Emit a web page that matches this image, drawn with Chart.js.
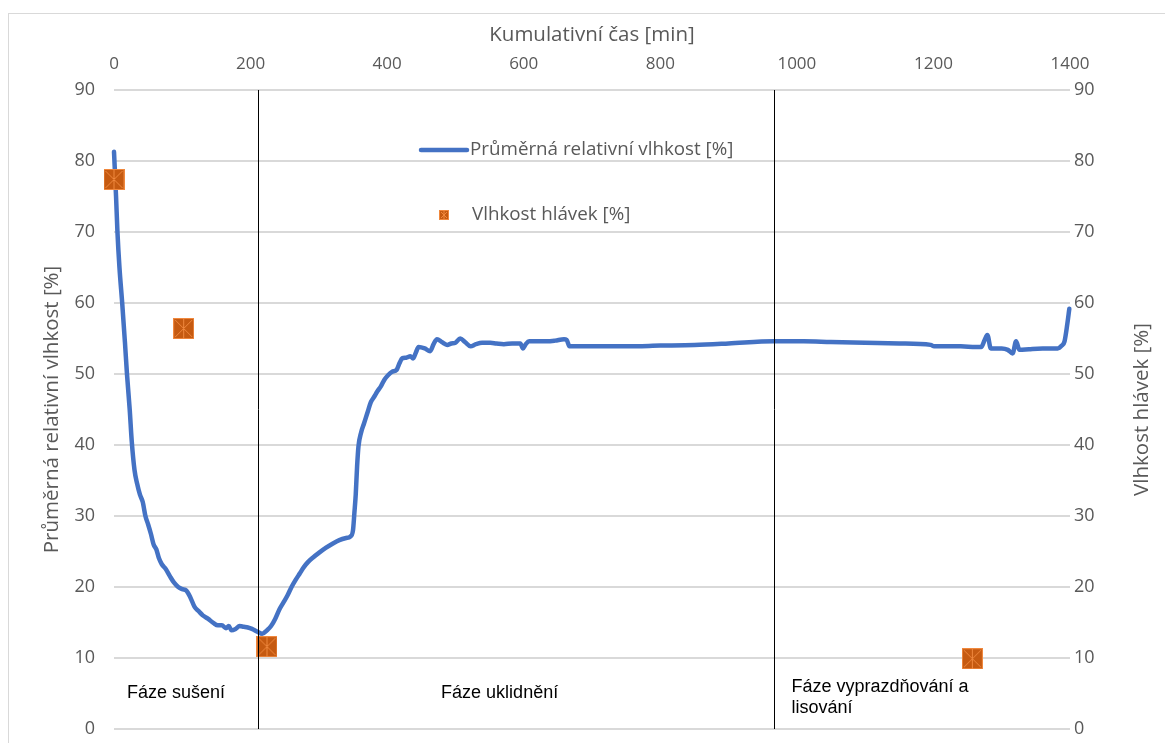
<!DOCTYPE html>
<html>
<head>
<meta charset="utf-8">
<script src="https://cdn.jsdelivr.net/npm/chart.js@4.4.0/dist/chart.umd.min.js"></script>
<style>
  html, body { margin: 0; padding: 0; background: #fff; }
</style>
</head>
<body>
<canvas id="chart" width="1165" height="743"></canvas>
<script>
// průměrná relativní vlhkost [%] vs. kumulativní čas [min]
const timeMin = [0, 3, 5, 8, 12, 16, 19, 23, 26, 30, 34, 38, 42, 46, 50, 54, 58, 62, 66, 70, 76, 82, 88, 94, 100, 106,
  112, 118, 124, 130, 138, 146, 152, 158, 164, 168, 172, 178, 184, 190, 196, 202, 210, 217, 224, 230, 236, 242, 248,
  254, 260, 266, 272, 278, 284, 292, 300, 310, 320, 330, 340, 346, 350, 352, 354, 356, 358, 362, 366, 371, 376, 381,
  386, 391, 396, 402, 407, 414, 418, 422, 428, 434, 438, 442, 446, 455, 463, 468, 473, 480, 488, 494, 500, 507, 514,
  522, 530, 539, 551, 560, 571, 583, 595, 599, 603, 608, 620, 634, 646, 659, 663, 667, 700, 750, 800, 850, 900, 966,
  1010, 1050, 1100, 1150, 1196, 1201, 1240, 1262, 1270, 1275, 1279, 1284, 1300, 1309, 1316, 1321, 1326, 1340, 1360,
  1382, 1388, 1392, 1396, 1399];
const avgHumidity = [81.3, 75, 70.1, 65, 60, 54.5, 50, 45, 40.5, 36.5, 34.5, 33, 32, 30, 28.8, 27.5, 26, 25.3, 24, 23.2,
  22.5, 21.5, 20.6, 20, 19.7, 19.5, 18.5, 17.2, 16.6, 16, 15.5, 14.9, 14.6, 14.6, 14.2, 14.5, 13.9, 14.1, 14.5, 14.4,
  14.3, 14.1, 13.7, 13.4, 13.9, 14.5, 15.5, 16.8, 17.8, 18.8, 20, 21, 21.9, 22.8, 23.5, 24.2, 24.8, 25.5, 26.1, 26.6,
  26.9, 27.1, 28, 30.4, 33, 37, 39.8, 41.8, 43, 44.5, 46, 46.8, 47.6, 48.3, 49.2, 49.9, 50.3, 50.6, 51.5, 52.2, 52.3,
  52.5, 52.2, 53, 53.8, 53.6, 53.2, 54.2, 54.9, 54.5, 54.1, 54.3, 54.4, 55, 54.5, 53.9, 54.2, 54.4, 54.4, 54.3, 54.2,
  54.3, 54.3, 53.6, 54.2, 54.6, 54.6, 54.6, 54.7, 54.9, 54.8, 53.9, 53.9, 53.9, 54, 54.1, 54.3, 54.6, 54.6, 54.5, 54.4,
  54.3, 54.1, 53.9, 53.9, 53.8, 53.8, 54.8, 55.5, 53.6, 53.6, 53.4, 52.9, 54.6, 53.4, 53.5, 53.6, 53.6, 54, 54.6, 57,
  59.2];

// vlhkost hlávek [%]
const sampleTime = [0, 102, 224, 1257];
const sampleMoisture = [77.4, 56.4, 11.6, 9.9];

// hranice fází [min]
const phaseBounds = [211, 966];
const phaseNames = [['Fáze sušení'], ['Fáze uklidnění'], ['Fáze vyprazdňování a', 'lisování']];
const phaseTextTime = [19, 479, 992];
const phaseTextLevel = [5.1, 5.1, 5.9];

const lineLabel = 'Průměrná relativní vlhkost [%]';
const pointLabel = 'Vlhkost hlávek [%]';

const GRAY = '#595959';
const GRID = '#d9d9d9';
const FONT = "'Open Sans', 'DejaVu Sans', sans-serif";

const makeMarker = (size) => {
  const c = document.createElement('canvas');
  c.width = size;
  c.height = size;
  const g = c.getContext('2d');
  g.fillStyle = '#C55A11';
  g.fillRect(0, 0, size, size);
  g.strokeStyle = '#F0883E';
  g.lineWidth = 1;
  g.strokeRect(0.5, 0.5, size - 1, size - 1);
  g.beginPath();
  g.moveTo(2, 2); g.lineTo(size - 2, size - 2);
  g.moveTo(size - 2, 2); g.lineTo(2, size - 2);
  g.moveTo(size / 2, 1); g.lineTo(size / 2, size - 1);
  g.stroke();
  return c;
};
const bigMarker = makeMarker(21);
const smallMarker = makeMarker(10);

// svislé osy bez přídavného odsazení od popisků
const fitVertical = (width) => (s) => {
  s.width = width;
  s.paddingTop = 0;
  s.paddingBottom = 0;
};

const overlay = {
  id: 'overlay',
  beforeDraw(chart) {
    const c = chart.ctx;
    c.save();
    c.fillStyle = '#fff';
    c.fillRect(0, 0, chart.width, chart.height);
    c.strokeStyle = GRID;
    c.lineWidth = 1;
    c.strokeRect(8.5, 13.5, chart.width + 20, chart.height + 20);
    c.restore();
  },
  afterDatasetsDraw(chart) {
    const c = chart.ctx;
    const xs = chart.scales.x;
    const area = chart.chartArea;
    c.save();
    c.strokeStyle = '#000';
    c.lineWidth = 1;
    phaseBounds.forEach((t) => {
      const px = Math.round(xs.getPixelForValue(t)) + 0.5;
      c.beginPath();
      c.moveTo(px, area.top);
      c.lineTo(px, area.bottom);
      c.stroke();
    });
    c.restore();
  },
  afterDraw(chart) {
    const c = chart.ctx;
    const xs = chart.scales.x;
    const ys = chart.scales.y;
    const area = chart.chartArea;
    c.save();

    // popisky fází
    c.fillStyle = '#000';
    c.font = "18px 'Liberation Sans', Arial, sans-serif";
    c.textAlign = 'left';
    c.textBaseline = 'middle';
    phaseNames.forEach((lines, i) => {
      const px = xs.getPixelForValue(phaseTextTime[i]);
      const py = ys.getPixelForValue(phaseTextLevel[i]);
      lines.forEach((txt, k) => c.fillText(txt, px, py + k * 21));
    });

    // legenda
    c.font = '18.8px ' + FONT;
    c.fillStyle = GRAY;
    c.strokeStyle = '#4472C4';
    c.lineWidth = 4.5;
    c.lineCap = 'round';
    c.beginPath();
    c.moveTo(421, 150);
    c.lineTo(467, 150);
    c.stroke();
    c.fillText(lineLabel, 470, 150);
    c.drawImage(smallMarker, 439, 210);
    c.fillText(pointLabel, 472, 215);

    // nadpis pravé osy
    c.font = '20.5px ' + FONT;
    c.translate(1142, (area.top + area.bottom) / 2);
    c.rotate(-Math.PI / 2);
    c.textAlign = 'center';
    c.fillText(pointLabel, 0, 0);
    c.restore();
  }
};

const ctx = document.getElementById('chart');
const chart = new Chart(ctx, {
  type: 'line',
  data: {
    datasets: [
      {
        label: lineLabel,
        data: timeMin.map((t, i) => ({ x: t, y: avgHumidity[i] })),
        borderColor: '#4472C4',
        borderWidth: 4.5,
        pointRadius: 0,
        cubicInterpolationMode: 'monotone',
        borderCapStyle: 'round',
        borderJoinStyle: 'round',
        clip: false,
        yAxisID: 'y',
        order: 2
      },
      {
        type: 'scatter',
        label: pointLabel,
        data: sampleTime.map((t, i) => ({ x: t, y: sampleMoisture[i] })),
        pointStyle: bigMarker,
        pointRadius: 10,
        clip: false,
        yAxisID: 'y2',
        order: 1
      }
    ]
  },
  options: {
    responsive: false,
    animation: false,
    devicePixelRatio: 1,
    layout: { padding: { top: 0, left: 0, right: 0, bottom: 14 } },
    plugins: { legend: { display: false }, tooltip: { enabled: false } },
    scales: {
      x: {
        type: 'linear',
        position: 'top',
        min: 0,
        max: 1400,
        ticks: { stepSize: 200, color: GRAY, font: { family: FONT, size: 17 }, padding: 16, maxRotation: 0,
          format: { useGrouping: false } },
        grid: { display: false, drawTicks: false },
        border: { display: false },
        title: { display: true, text: 'Kumulativní čas [min]', color: GRAY, font: { family: FONT, size: 20.5 }, padding: { top: 23 } },
        afterFit: (s) => { s.height = 90; }
      },
      y: {
        position: 'left',
        min: 0,
        max: 90,
        ticks: { stepSize: 10, color: GRAY, font: { family: FONT, size: 18 }, padding: 19 },
        grid: { color: GRID, lineWidth: 2, drawTicks: false },
        border: { display: false },
        title: { display: true, text: lineLabel, color: GRAY, font: { family: FONT, size: 20.5 }, padding: { top: 40 } },
        afterFit: fitVertical(114)
      },
      y2: {
        position: 'right',
        min: 0,
        max: 90,
        ticks: { stepSize: 10, color: GRAY, font: { family: FONT, size: 18 }, padding: 4 },
        grid: { display: false, drawTicks: false },
        border: { display: false },
        afterFit: fitVertical(95)
      }
    }
  },
  plugins: [overlay]
});
</script>
</body>
</html>
